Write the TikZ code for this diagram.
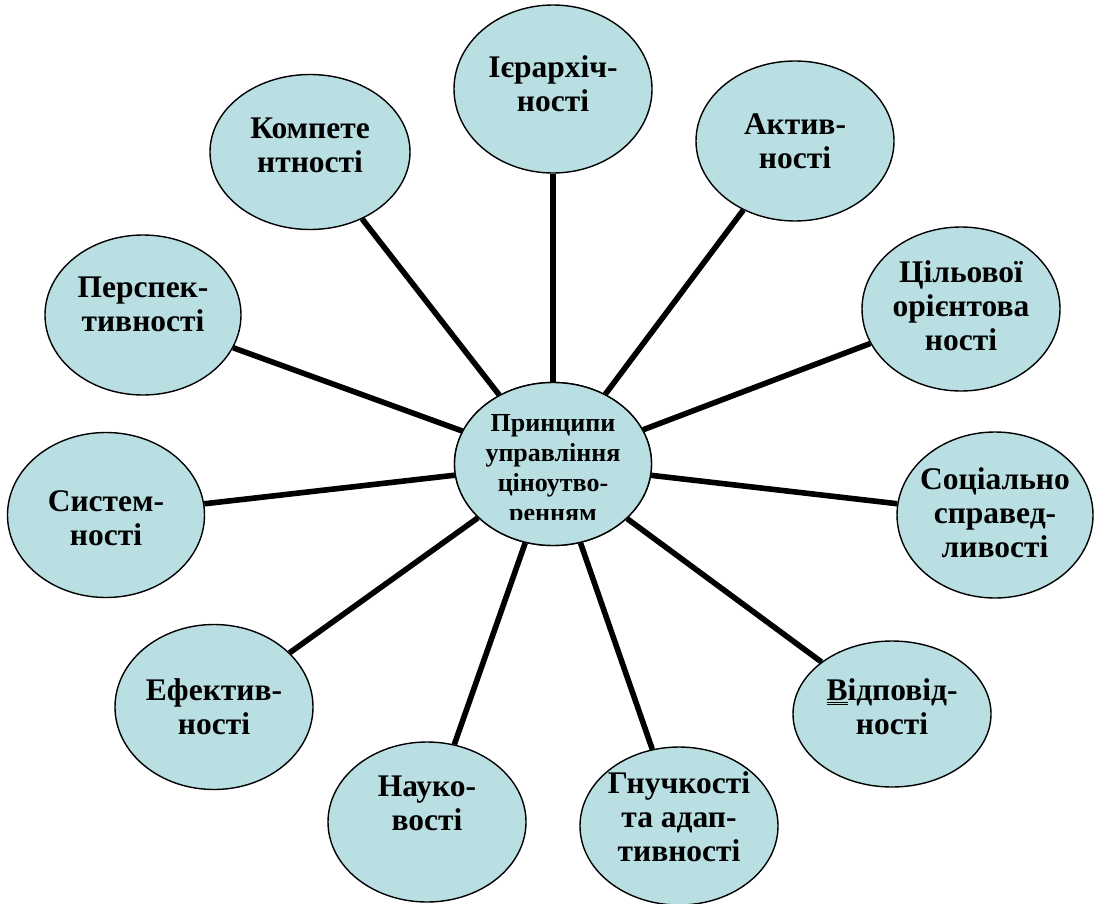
\documentclass[tikz,border=0pt]{standalone}
\usepackage{fontspec}
\setmainfont{Liberation Serif}
\usetikzlibrary{shapes.geometric}
\definecolor{bubfill}{HTML}{B9DFE2}
\tikzset{
  bub/.style={ellipse, draw=black, line width=1.4pt, fill=bubfill, inner sep=0pt, minimum width=198pt, minimum height=164pt},
  txt/.style={align=center, font=\bfseries\fontsize{31.5}{34}\selectfont, inner sep=0pt},
  ctxt/.style={align=center, font=\bfseries\fontsize{26}{30}\selectfont, inner sep=0pt},
  conn/.style={line width=5.6pt, draw=black}
}
\begin{document}
\begin{tikzpicture}[x=1pt,y=-1pt]
\useasboundingbox (0,0) rectangle (1094,904);
% central node
\node[bub, minimum width=197pt, minimum height=163pt] (c) at (553,464) {};
% outer nodes
\node[bub, minimum height=168pt] (n1) at (553,89) {};
\node[bub, minimum height=160pt] (n2) at (795,141) {};
\node[bub] (n3) at (961,309) {};
\node[bub, minimum width=196pt, minimum height=166pt] (n4) at (995,515) {};
\node[bub, minimum height=146pt] (n5) at (892,714) {};
\node[bub, minimum height=158pt] (n6) at (679,826) {};
\node[bub, minimum height=160pt] (n7) at (427,822) {};
\node[bub, minimum height=165pt] (n8) at (214,707) {};
\node[bub, minimum width=197pt, minimum height=165pt] (n9) at (106,515) {};
\node[bub, minimum width=196pt, minimum height=160pt] (n10) at (143,315) {};
\node[bub, minimum width=200pt, minimum height=155pt] (n11) at (310,152) {};
% connectors
\foreach \n in {n1,n2,n3,n4,n5,n6,n7,n8,n9,n10,n11}{
  \draw[conn] (c) -- (\n);
}
% redraw central bubble over connector ends
\node[bub, minimum width=197pt, minimum height=163pt] (c2) at (553,464) {};
% texts
\begin{scope}
\clip (440,370) rectangle (670,519);
\node[ctxt] (tc) at (553,471) {Принципи\\управління\\ціноутво-\\ренням};
\end{scope}
\node[txt] (t1) at ([yshift=5pt]n1.center) {Ієрархіч-\\ності};
\node[txt] (t2) at (n2) {Актив-\\ності};
\node[txt] (t3) at ([yshift=3pt]n3.center) {Цільової\\орієнтова\\ності};
\node[txt] (t4) at ([yshift=2pt]n4.center) {Соціально\\справед-\\ливості};
\node[txt] (t5) at ([yshift=7pt]n5.center) {\underline{\underline{В}}ідповід-\\ності};
\node[txt] (t6) at ([yshift=9pt]n6.center) {Гнучкості\\та адап-\\тивності};
\node[txt] (t7) at ([yshift=19pt]n7.center) {Науко-\\вості};
\node[txt] (t8) at (n8) {Ефектив-\\ності};
\node[txt] (t9) at ([yshift=-3pt]n9.center) {Систем-\\ності};
\node[txt] (t10) at ([yshift=11pt]n10.center) {Перспек-\\тивності};
\node[txt] (t11) at ([yshift=7pt]n11.center) {Компете\\нтності};
\end{tikzpicture}
\end{document}
